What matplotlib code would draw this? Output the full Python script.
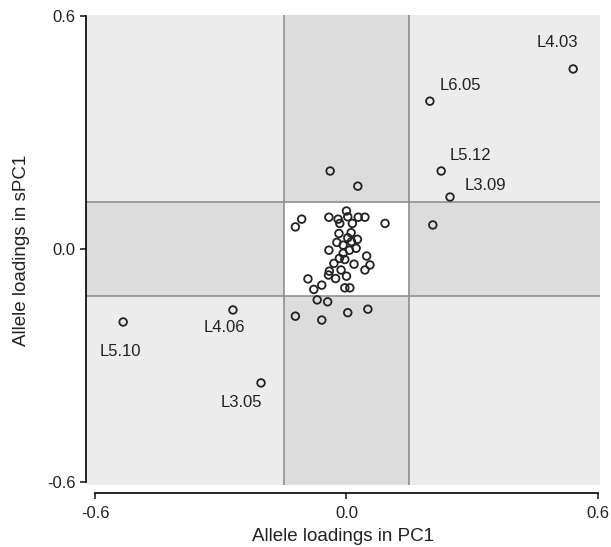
import matplotlib
matplotlib.use("Agg")
import matplotlib.pyplot as plt
from matplotlib.patches import Rectangle

plt.rcParams['font.family'] = ['Liberation Sans', 'DejaVu Sans']

# Allele loadings (PC1, sPC1)
pc1 = [-0.122, -0.107, -0.042, 0.000, 0.003, -0.020, -0.016, 0.014, 0.028, 0.044,
       0.092, -0.018, 0.011, 0.003, 0.026, -0.023, -0.008, 0.012, -0.042, 0.007,
       0.023, -0.008, 0.048, -0.004, -0.017, -0.030, 0.018, 0.056, 0.044, -0.013,
       -0.041, -0.043, -0.026, 0.000, -0.092, -0.059, -0.078, -0.004, 0.008, -0.070,
       -0.045, -0.122, -0.059, 0.003, 0.051, -0.039, 0.027, 0.206,
       0.541, 0.199, 0.226, 0.247, -0.533, -0.271, -0.204]
spc1 = [0.057, 0.077, 0.082, 0.098, 0.083, 0.077, 0.066, 0.066, 0.082, 0.082,
        0.066, 0.040, 0.042, 0.029, 0.025, 0.017, 0.010, 0.019, -0.003, -0.003,
        0.002, -0.011, -0.018, -0.027, -0.024, -0.037, -0.039, -0.041, -0.054, -0.054,
        -0.057, -0.067, -0.076, -0.070, -0.077, -0.093, -0.104, -0.100, -0.100, -0.131,
        -0.136, -0.173, -0.183, -0.164, -0.155, 0.201, 0.162, 0.062,
        0.464, 0.381, 0.201, 0.134, -0.188, -0.157, -0.345]

labels = ['L4.03', 'L6.05', 'L5.12', 'L3.09', 'L5.10', 'L4.06', 'L3.05']
label_x = [0.541, 0.199, 0.226, 0.247, -0.533, -0.271, -0.204]
label_y = [0.464, 0.381, 0.201, 0.134, -0.188, -0.157, -0.345]
# label offsets in pixels (dx right, dy up)
label_off = [(-16, 26), (30, 16), (29, 16), (35, 12), (-3, -30), (-9, -18), (-20, -20)]

thr_x = 0.15
thr_y = 0.12
ticks = [-0.6, 0.0, 0.6]
tick_labels = ['-0.6', '0.0', '0.6']

fig = plt.figure(figsize=(6.11, 5.47), dpi=100)
ax = fig.add_axes([86/611, 1-485/547, (600-86)/611, (485-15)/547])
xlim = (-0.6217, 0.605)
ylim = (-0.608, 0.603)
ax.set_xlim(*xlim)
ax.set_ylim(*ylim)

light = '#ececec'
dark = '#dcdcdc'
ax.add_patch(Rectangle((xlim[0], ylim[0]), xlim[1]-xlim[0], ylim[1]-ylim[0],
                       facecolor=light, edgecolor='none', zorder=0))
ax.add_patch(Rectangle((-thr_x, ylim[0]), 2*thr_x, ylim[1]-ylim[0],
                       facecolor=dark, edgecolor='none', zorder=0.5))
ax.add_patch(Rectangle((xlim[0], -thr_y), xlim[1]-xlim[0], 2*thr_y,
                       facecolor=dark, edgecolor='none', zorder=0.5))
ax.add_patch(Rectangle((-thr_x, -thr_y), 2*thr_x, 2*thr_y,
                       facecolor='white', edgecolor='none', zorder=0.6))
for v in (-thr_x, thr_x):
    ax.axvline(v, color='#8f8f8f', lw=1.2, zorder=1)
for h in (-thr_y, thr_y):
    ax.axhline(h, color='#8f8f8f', lw=1.2, zorder=1)

ax.scatter(pc1, spc1, s=30, facecolors='none', edgecolors='#222222',
           linewidths=1.3, zorder=3)

for lab, x, y, (dx, dy) in zip(labels, label_x, label_y, label_off):
    ax.annotate(lab, (x, y), xytext=(dx*0.72, dy*0.72), textcoords='offset points',
                ha='center', va='center', fontsize=12, color='#222222', zorder=4)

for s in ('top', 'right'):
    ax.spines[s].set_visible(False)
ax.spines['left'].set_bounds(-0.6, 0.6)
ax.spines['bottom'].set_bounds(-0.6, 0.6)
ax.spines['bottom'].set_position(('outward', 6))
ax.spines['left'].set_linewidth(1.2)
ax.spines['bottom'].set_linewidth(1.2)
ax.set_xticks(ticks)
ax.set_xticklabels(tick_labels)
ax.set_yticks(ticks)
ax.set_yticklabels(tick_labels)
ax.tick_params(direction='out', length=4, width=1.2, labelsize=12, colors='#222222')
ax.tick_params(axis='x', pad=5)
ax.set_xlabel('Allele loadings in PC1', fontsize=13.5, color='#222222', labelpad=5)
ax.set_ylabel('Allele loadings in sPC1', fontsize=13.5, color='#222222', labelpad=12)

fig.savefig('out.png', dpi=100)
